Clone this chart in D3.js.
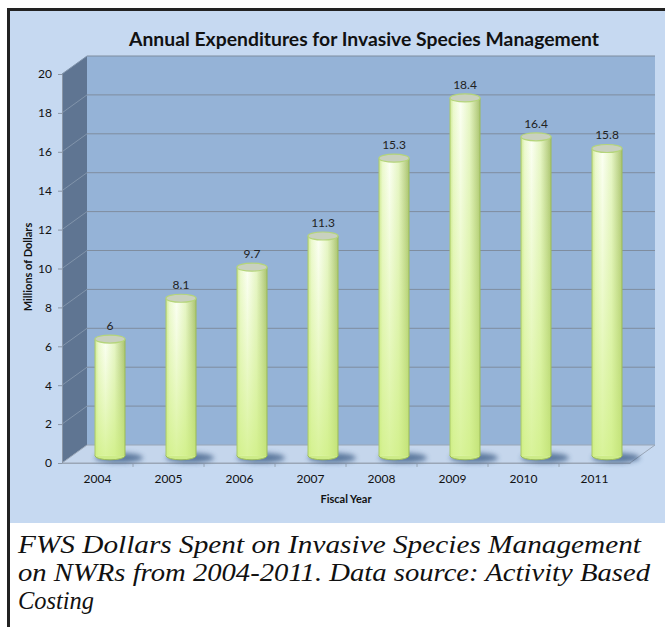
<!DOCTYPE html>
<html>
<head>
<meta charset="utf-8">
<script src="https://cdn.jsdelivr.net/npm/d3@7"></script>
<style>
  body { margin: 0; background: #fff; }
  svg { display: block; }
</style>
</head>
<body>
<svg width="665" height="627"></svg>
<script>
// DATA
const years = ["2004", "2005", "2006", "2007", "2008", "2009", "2010", "2011"];
const spending = [6, 8.1, 9.7, 11.3, 15.3, 18.4, 16.4, 15.8];
const yTicks = [0, 2, 4, 6, 8, 10, 12, 14, 16, 18, 20];
const captionLines = [
    "FWS Dollars Spent on Invasive Species Management",
    "on NWRs from 2004-2011. Data source: Activity Based",
    "Costing"
];

const svg = d3.select("svg");
const font = "Lato, 'Open Sans', sans-serif";

// 3D depth of the plot box
const depth = { dx: 25, dy: -18 };
const plot = { left: 62, right: 630, top: 74, bottom: 463 };

const xScale = d3.scaleBand().domain(years).range([plot.left, plot.right]);
const yScale = d3.scaleLinear().domain([0, 20]).range([plot.bottom, plot.top]);

// GRADIENTS
const defs = svg.append("defs");
const barGrad = defs.append("linearGradient").attr("id", "barGrad")
    .attr("x1", 0).attr("x2", 1).attr("y1", 0).attr("y2", 0);
[["0%", "#cfe994"], ["12%", "#ecf9cf"], ["35%", "#fbfff3"], ["65%", "#e6f5c6"],
 ["88%", "#bfd48e"], ["100%", "#a9c270"]]
    .forEach(s => barGrad.append("stop").attr("offset", s[0]).attr("stop-color", s[1]));
const greenGrad = defs.append("linearGradient").attr("id", "greenGrad")
    .attr("x1", 0).attr("x2", 0).attr("y1", 0).attr("y2", 1);
greenGrad.append("stop").attr("offset", "0%").attr("stop-color", "#d4f28c").attr("stop-opacity", 0);
greenGrad.append("stop").attr("offset", "100%").attr("stop-color", "#cdef7c").attr("stop-opacity", 0.75);
defs.append("filter").attr("id", "blur")
    .attr("x", "-50%").attr("y", "-100%").attr("width", "200%").attr("height", "300%")
    .append("feGaussianBlur").attr("stdDeviation", 2.5);

// FRAME
svg.append("rect").attr("x", 10).attr("y", 11).attr("width", 655).attr("height", 512)
    .attr("fill", "#c6d9f1");
svg.append("rect").attr("x", 7).attr("y", 8).attr("width", 658).attr("height", 3).attr("fill", "#222");
svg.append("rect").attr("x", 7).attr("y", 8).attr("width", 3).attr("height", 619).attr("fill", "#222");

// TITLE
svg.append("text")
    .attr("x", 364)
    .attr("y", 46)
    .attr("text-anchor", "middle")
    .attr("font-family", font)
    .attr("font-size", "18px")
    .attr("font-weight", "bold")
    .attr("fill", "#111")
    .attr("textLength", 470)
    .attr("lengthAdjust", "spacingAndGlyphs")
    .text("Annual Expenditures for Invasive Species Management");

const chart = svg.append("g");
const y0 = yScale(0), y20 = yScale(20);

// WALLS
chart.append("rect")
    .attr("x", plot.left + depth.dx).attr("y", y20 + depth.dy)
    .attr("width", plot.right - plot.left).attr("height", y0 - y20)
    .attr("fill", "#95b3d7");
chart.append("polygon")
    .attr("points", [[plot.left, y20], [plot.left + depth.dx, y20 + depth.dy],
        [plot.left + depth.dx, y0 + depth.dy], [plot.left, y0]].join(" "))
    .attr("fill", "#5f7592");
chart.append("polygon")
    .attr("points", [[plot.left, y0], [plot.left + depth.dx, y0 + depth.dy],
        [plot.right + depth.dx, y0 + depth.dy], [plot.right, y0]].join(" "))
    .attr("fill", "#c5d6ec")
    .attr("stroke", "#9aa6b6")
    .attr("stroke-width", 1);

// GRID
const grid = chart.append("g").attr("stroke", "#7f8d9f").attr("stroke-width", 1);
yTicks.filter(t => t > 0).forEach(t => {
    const y = yScale(t);
    grid.append("line")
        .attr("x1", plot.left + depth.dx).attr("x2", plot.right + depth.dx)
        .attr("y1", y + depth.dy).attr("y2", y + depth.dy);
    grid.append("line")
        .attr("x1", plot.left).attr("x2", plot.left + depth.dx)
        .attr("y1", y).attr("y2", y + depth.dy)
        .attr("stroke", "#8194ab");
});

// Y AXIS
const yAxis = chart.append("g")
    .attr("transform", `translate(${plot.left},0)`)
    .call(d3.axisLeft(yScale).tickValues(yTicks).tickSize(4).tickPadding(6));
yAxis.select(".domain").attr("stroke", "#8a96a6");
yAxis.selectAll(".tick line").attr("stroke", "#8a96a6");
yAxis.selectAll("text").attr("font-family", font).attr("font-size", "12px").attr("fill", "#111");

// X AXIS
const xAxis = chart.append("g")
    .attr("transform", `translate(0,${plot.bottom})`)
    .call(d3.axisBottom(xScale).tickSize(0).tickPadding(11));
xAxis.select(".domain").attr("stroke", "#9aa6b6");
xAxis.selectAll("text").attr("font-family", font).attr("font-size", "12px").attr("fill", "#111");
chart.append("g").selectAll("line")
    .data(years.slice(1))
    .join("line")
    .attr("x1", d => xScale(d)).attr("x2", d => xScale(d))
    .attr("y1", plot.bottom).attr("y2", plot.bottom + 4)
    .attr("stroke", "#9aa6b6");

// AXIS TITLES
svg.append("text")
    .attr("x", 346).attr("y", 503)
    .attr("text-anchor", "middle")
    .attr("font-family", font).attr("font-size", "11px").attr("font-weight", "bold")
    .attr("fill", "#111")
    .text("Fiscal Year");
svg.append("text")
    .attr("transform", "translate(32,267) rotate(-90)")
    .attr("text-anchor", "middle")
    .attr("font-family", font).attr("font-size", "11px").attr("font-weight", "bold")
    .attr("fill", "#111")
    .text("Millions of Dollars");

// BARS (cylinders, set at mid depth)
const barW = 30, ry = 4;
const data = years.map((y, i) => ({ year: y, value: spending[i] }));
const cx = d => xScale(d.year) + xScale.bandwidth() / 2 + depth.dx / 2;
const cy = v => yScale(v) + depth.dy * 0.4;

const bars = chart.append("g").selectAll("g").data(data).join("g");

bars.append("ellipse")
    .attr("cx", d => cx(d) + 9).attr("cy", cy(0) + 2)
    .attr("rx", 24).attr("ry", 5)
    .attr("fill", "#33527e").attr("opacity", 0.7)
    .attr("filter", "url(#blur)");

bars.append("ellipse")
    .attr("cx", cx).attr("cy", cy(0))
    .attr("rx", barW / 2).attr("ry", ry)
    .attr("fill", "#cdec88").attr("stroke", "#9bbb59").attr("stroke-width", 1);

bars.append("rect")
    .attr("x", d => cx(d) - barW / 2).attr("y", d => cy(d.value))
    .attr("width", barW).attr("height", d => cy(0) - cy(d.value))
    .attr("fill", "url(#barGrad)");
bars.append("rect")
    .attr("x", d => cx(d) - barW / 2).attr("y", d => cy(d.value))
    .attr("width", barW).attr("height", d => cy(0) - cy(d.value))
    .attr("fill", "url(#greenGrad)");
bars.append("line")
    .attr("x1", d => cx(d) - barW / 2).attr("x2", d => cx(d) - barW / 2)
    .attr("y1", d => cy(d.value)).attr("y2", cy(0))
    .attr("stroke", "#a9c86a").attr("stroke-width", 1);
bars.append("line")
    .attr("x1", d => cx(d) + barW / 2).attr("x2", d => cx(d) + barW / 2)
    .attr("y1", d => cy(d.value)).attr("y2", cy(0))
    .attr("stroke", "#9bbb59").attr("stroke-width", 1);

bars.append("ellipse")
    .attr("cx", cx).attr("cy", d => cy(d.value))
    .attr("rx", barW / 2).attr("ry", ry)
    .attr("fill", "#c9d1bf").attr("stroke", "#b5d57a").attr("stroke-width", 1.2);

// VALUE LABELS
bars.append("text")
    .attr("x", cx).attr("y", d => cy(d.value) - 9)
    .attr("text-anchor", "middle")
    .attr("font-family", font).attr("font-size", "12px")
    .attr("fill", "#222")
    .text(d => d.value);

// CAPTION
const capWidths = [623, 632, 76];
svg.append("g").selectAll("text")
    .data(captionLines)
    .join("text")
    .attr("x", 18)
    .attr("y", (d, i) => 553 + i * 28)
    .attr("font-family", "'Liberation Serif', serif")
    .attr("font-style", "italic")
    .attr("font-size", "26px")
    .attr("fill", "#111")
    .attr("textLength", (d, i) => capWidths[i])
    .attr("lengthAdjust", "spacingAndGlyphs")
    .text(d => d);
</script>
</body>
</html>
